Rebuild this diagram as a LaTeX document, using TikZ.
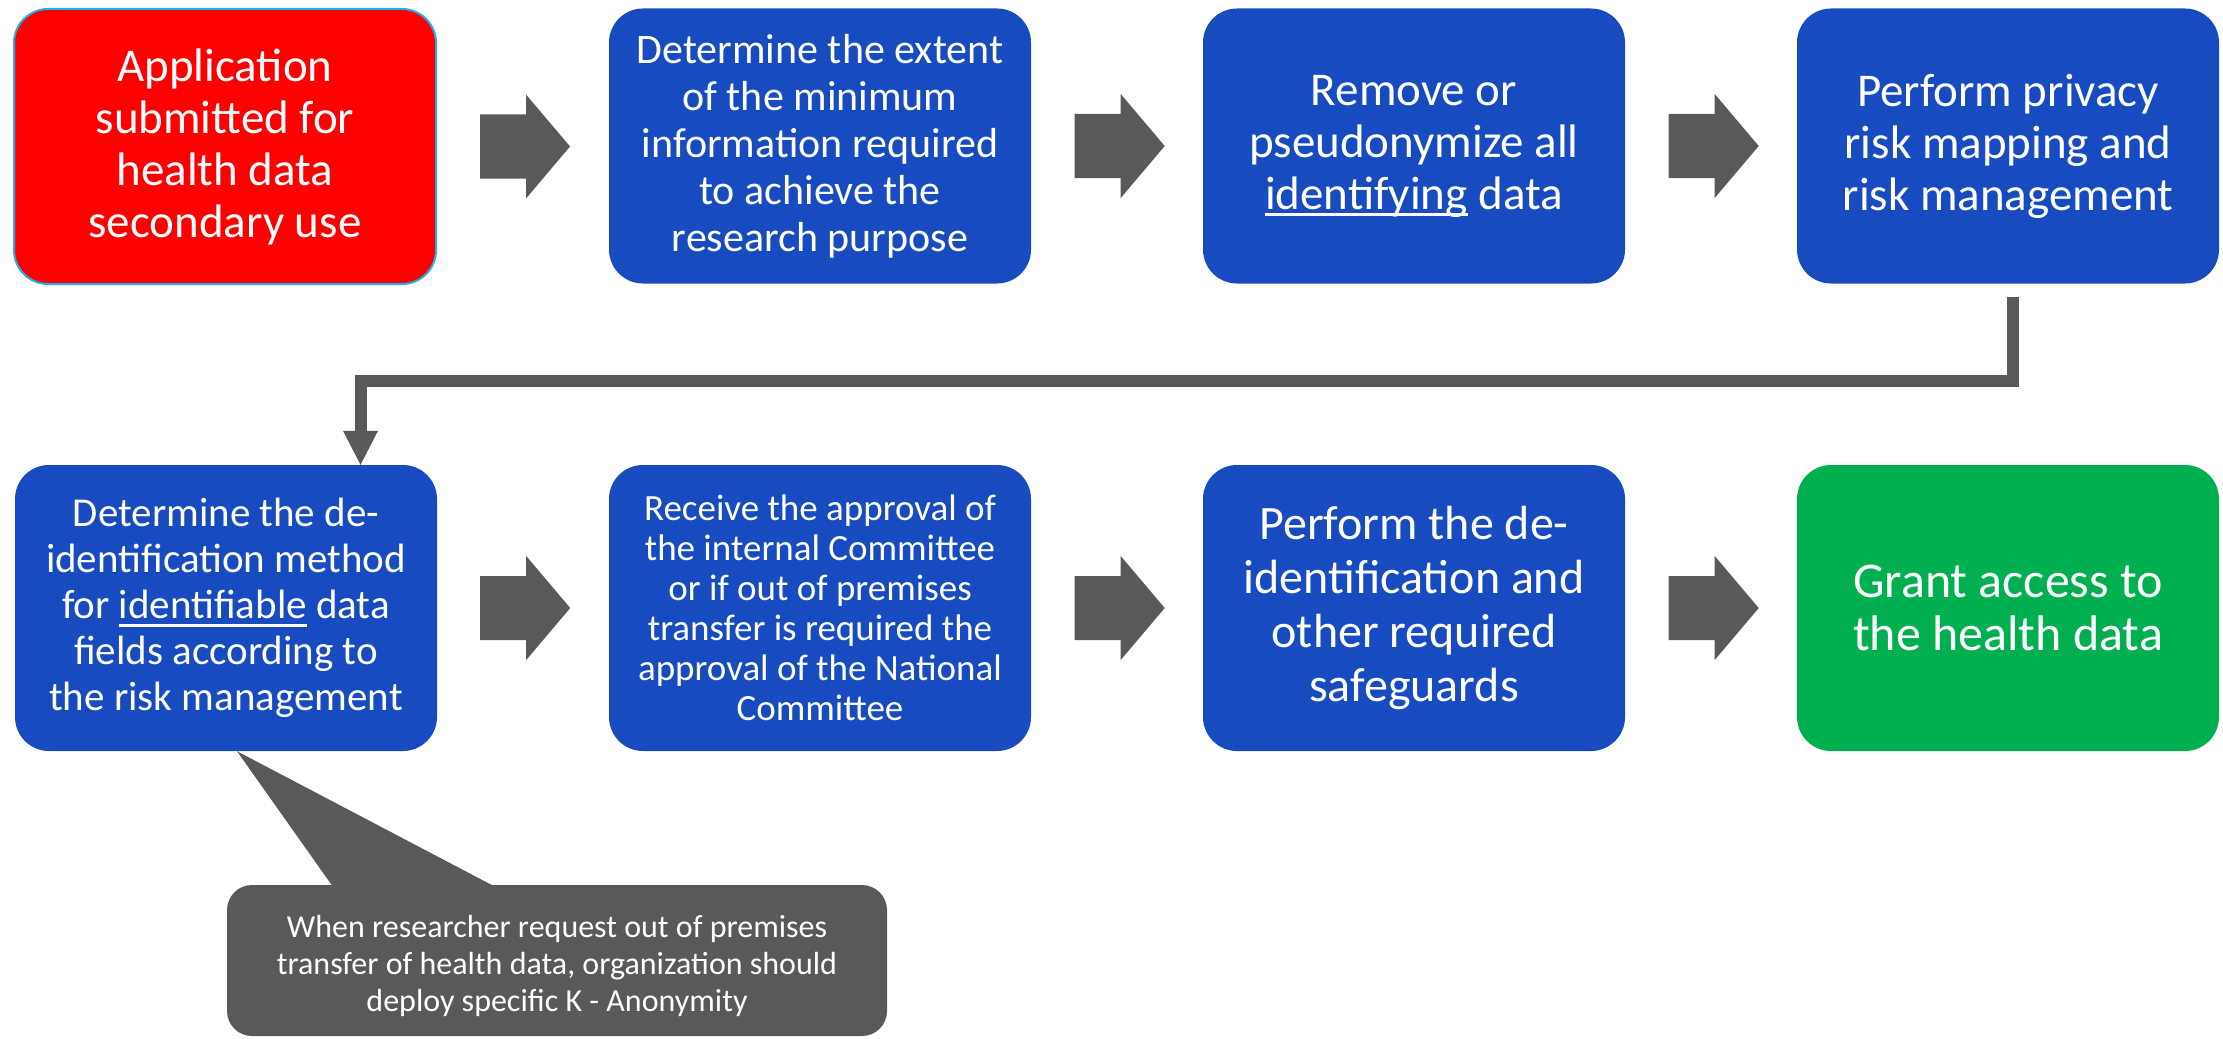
\documentclass[tikz,border=0pt]{standalone}
\usepackage{fontspec}
\setmainfont{Carlito}
\usetikzlibrary{arrows.meta}
\definecolor{boxblue}{RGB}{24,75,192}
\definecolor{boxred}{RGB}{255,0,0}
\definecolor{boxgreen}{RGB}{0,176,80}
\definecolor{darkgrayfill}{RGB}{89,89,89}
\definecolor{edgeblue}{RGB}{30,176,232}
\newcommand\undl[2][0.15em]{\setbox0\hbox{#2}\rlap{\rule[-#1]{\wd0}{0.06em}}\box0\relax}
\newcommand\fs[2]{\fontsize{#1pt}{#2pt}\selectfont}
\newcommand\blockarr[1]{\fill[darkgrayfill] (#1) ++(0,-32) -- ++(46,0) -- ++(0,-20) -- ++(44,52) -- ++(-44,52) -- ++(0,-20) -- ++(-46,0) -- cycle;}
\tikzset{
  stepbox/.style={rectangle, rounded corners=34pt, minimum width=422pt, inner sep=0pt, text=white, align=center, fill=boxblue},
  toprow/.style={minimum height=275pt},
  botrow/.style={minimum height=286pt},
  conn/.style={draw=darkgrayfill, line width=12pt, line join=miter},
}
\begin{document}
\begin{tikzpicture}[x=1pt,y=-1pt]
\useasboundingbox (0,0) rectangle (2223,1038);
% top row
\node[stepbox,toprow,fill=boxred,draw=edgeblue,line width=2pt,font=\fs{47}{52}] (b1) at (225,146.5) {Application\\submitted for\\health data\\secondary use};
\node[stepbox,toprow,font=\fs{42}{47}] (b2) at (820,146) {Determine the extent\\of the minimum\\information required\\to achieve the\\research purpose};
\node[stepbox,toprow,font=\fs{47}{52}] (b3) at (1414,146) {Remove or\\pseudonymize all\\\undl{identifying} data};
\node[stepbox,toprow,font=\fs{47}{52}] (b4) at (2008,146) {Perform privacy\\risk mapping and\\risk management};
% bottom row
\node[stepbox,botrow,font=\fs{41}{46}] (b5) at (226,608) {Determine the de-\\identification method\\for \undl[0.19em]{identifiable} data\\fields according to\\the risk management};
\node[stepbox,botrow,font=\fs{37}{40}] (b6) at (820,608) {Receive the approval of\\the internal Committee\\or if out of premises\\transfer is required the\\approval of the National\\Committee};
\node[stepbox,botrow,font=\fs{48}{54}] (b7) at (1414,608) {Perform the de-\\identification and\\other required\\safeguards};
\node[stepbox,botrow,fill=boxgreen,font=\fs{50}{53}] (b8) at (2008,608) {Grant access to\\the health data};
% block arrows
\blockarr{[xshift=43pt]b1.east}
\blockarr{[xshift=43.5pt]b2.east}
\blockarr{[xshift=43.5pt]b3.east}
\blockarr{[xshift=43pt]b5.east}
\blockarr{[xshift=43.5pt]b6.east}
\blockarr{[xshift=43.5pt]b7.east}
% connector from row 1 to row 2
\draw[conn,-{Triangle[width=35pt,length=34pt,line width=0pt]}] ([xshift=5pt,yshift=-13pt]b4.south) -- ++(0,84) -| ([xshift=134.5pt]b5.north);
% callout
\node[rectangle, rounded corners=25pt, fill=darkgrayfill, minimum width=660pt, minimum height=151pt, inner sep=0pt] (co) at (557,960.5) {};
\fill[darkgrayfill] ([xshift=11pt]b5.south) -- ([xshift=109pt,yshift=-6pt]co.north west) -- ([xshift=276pt,yshift=-6pt]co.north west) -- cycle;
\node[text=white, align=center, font=\fs{32}{37}, inner sep=0pt] (ct) at ([yshift=-5pt]co.center) {When researcher request out of premises\\transfer of health data, organization should\\deploy specific K - Anonymity};
\end{tikzpicture}
\end{document}
